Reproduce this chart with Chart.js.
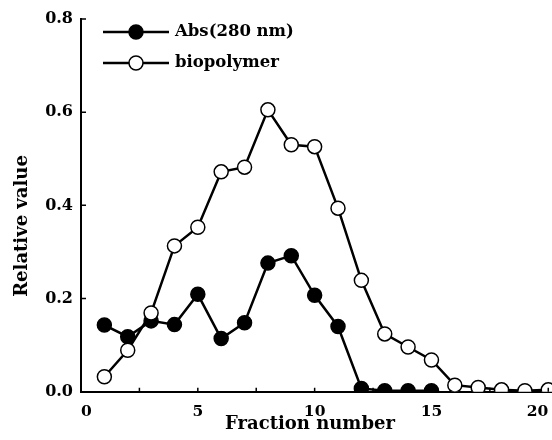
<!DOCTYPE html>
<html><head><meta charset="utf-8">
<script src="https://cdn.jsdelivr.net/npm/chart.js@4.4.0/dist/chart.umd.min.js"></script>
<style>
html,body{margin:0;padding:0;background:#fff;overflow:hidden;}
#wrap{width:552px;height:440px;overflow:hidden;position:relative;background:#fff;}
</style></head><body>
<div id="wrap"><canvas id="c" width="600" height="440"></canvas></div>
<script>
// ---- data ----
const fractions = [1,2,3,4,5,6,7,8,9,10,11,12,13,14,15,16,17,18,19,20];
const absValues = [0.143,0.118,0.152,0.144,0.209,0.114,0.148,0.276,0.292,0.207,0.140,0.007,0.002,0.002,0.002];
const bioValues = [0.032,0.089,0.169,0.313,0.353,0.472,0.482,0.605,0.530,0.526,0.394,0.239,0.124,0.096,0.068,0.014,0.009,0.004,0.002,0.004];
const seriesNames = ['Abs(280 nm)','biopolymer'];
const xTickValues = [0,5,10,15,20];
const yTickValues = [0,0.2,0.4,0.6,0.8];
const xTitle = 'Fraction number';
const yTitle = 'Relative value';

const FONT = "'DejaVu Serif', 'Liberation Serif', serif";

const toPoints = (vals) => vals.map((v,i)=>({x:fractions[i], y:v}));

const decorations = {
  id:'decorations',
  afterDraw(chart){
    const {ctx, chartArea:a, scales:{x,y}} = chart;
    ctx.save();
    // short inward tick marks
    ctx.strokeStyle = '#000';
    ctx.lineWidth = 1.5;
    ctx.beginPath();
    for (let v = 2.5; v <= 20; v += 2.5){
      const px = x.getPixelForValue(v);
      ctx.moveTo(px, a.bottom); ctx.lineTo(px, a.bottom - 4);
    }
    yTickValues.slice(1).forEach(v=>{
      const py = y.getPixelForValue(v);
      ctx.moveTo(a.left, py); ctx.lineTo(a.left + 5, py);
    });
    ctx.stroke();
    ctx.fillStyle = '#000';
    ctx.font = "bold 18px " + FONT;
    ctx.textBaseline = 'alphabetic';
    ctx.textAlign = 'center';
    // x-axis title (placed as in the reference)
    ctx.fillText(xTitle, 310, 429);
    // y-axis title
    ctx.save();
    ctx.translate(27, 226);
    ctx.rotate(-Math.PI/2);
    ctx.fillText(yTitle, 0, 0);
    ctx.restore();
    ctx.restore();
  }
};

const insideLegend = {
  id:'insideLegend',
  afterDraw(chart){
    const {ctx, chartArea:a} = chart;
    const order = [1,0];
    ctx.save();
    order.forEach((di,row)=>{
      const ds = chart.data.datasets[di];
      const cy = a.top + 13 + row*31;
      const x0 = a.left + 22, x1 = a.left + 88, cx = a.left + 55;
      ctx.strokeStyle = '#000'; ctx.lineWidth = 2.5;
      ctx.beginPath(); ctx.moveTo(x0, cy); ctx.lineTo(x1, cy); ctx.stroke();
      ctx.beginPath(); ctx.arc(cx, cy, 7, 0, Math.PI*2);
      ctx.fillStyle = ds.pointBackgroundColor; ctx.fill();
      ctx.lineWidth = 1.5; ctx.stroke();
      ctx.fillStyle = '#000';
      ctx.font = "bold 16.5px " + FONT;
      ctx.textBaseline = 'middle';
      ctx.textAlign = 'left';
      ctx.fillText(ds.label, a.left + 94, cy);
    });
    ctx.restore();
  }
};

new Chart(document.getElementById('c'), {
  type:'line',
  data:{
    datasets:[
      {
        label: seriesNames[1],
        data: toPoints(bioValues),
        borderColor:'#000', borderWidth:2.5,
        pointRadius:7, pointHoverRadius:7,
        pointBackgroundColor:'#fff', pointBorderColor:'#000', pointBorderWidth:1.5,
        tension:0, clip:0
      },
      {
        label: seriesNames[0],
        data: toPoints(absValues),
        borderColor:'#000', borderWidth:2.5,
        pointRadius:7, pointHoverRadius:7,
        pointBackgroundColor:'#000', pointBorderColor:'#000', pointBorderWidth:1.5,
        tension:0, clip:0
      }
    ]
  },
  options:{
    responsive:false,
    devicePixelRatio:1,
    animation:false,
    events:[],
    layout:{padding:{top:19,left:0,right:0,bottom:0}},
    plugins:{legend:{display:false}, tooltip:{enabled:false}},
    scales:{
      x:{
        type:'linear', min:0, max:21.85,
        afterBuildTicks:(s)=>{ s.ticks = xTickValues.map(v=>({value:v})); },
        afterFit:(s)=>{ s.height = 48.3; },
        ticks:{ color:'#000', font:{family:FONT, size:15.5, weight:'bold'}, padding:11, maxRotation:0, align:'inner', callback:(v)=>String(v) },
        grid:{display:false, drawTicks:false},
        border:{display:true, color:'#000', width:2},
        title:{display:false, text:xTitle}
      },
      y:{
        type:'linear', min:0, max:0.8,
        afterBuildTicks:(s)=>{ s.ticks = yTickValues.map(v=>({value:v})); },
        afterFit:(s)=>{ s.width = 81; },
        ticks:{ color:'#000', font:{family:FONT, size:16, weight:'bold'}, padding:8, callback:(v)=>v.toFixed(1) },
        grid:{display:false, drawTicks:false},
        border:{display:true, color:'#000', width:2},
        title:{display:false, text:yTitle}
      }
    }
  },
  plugins:[decorations, insideLegend]
});
</script>
</body></html>
